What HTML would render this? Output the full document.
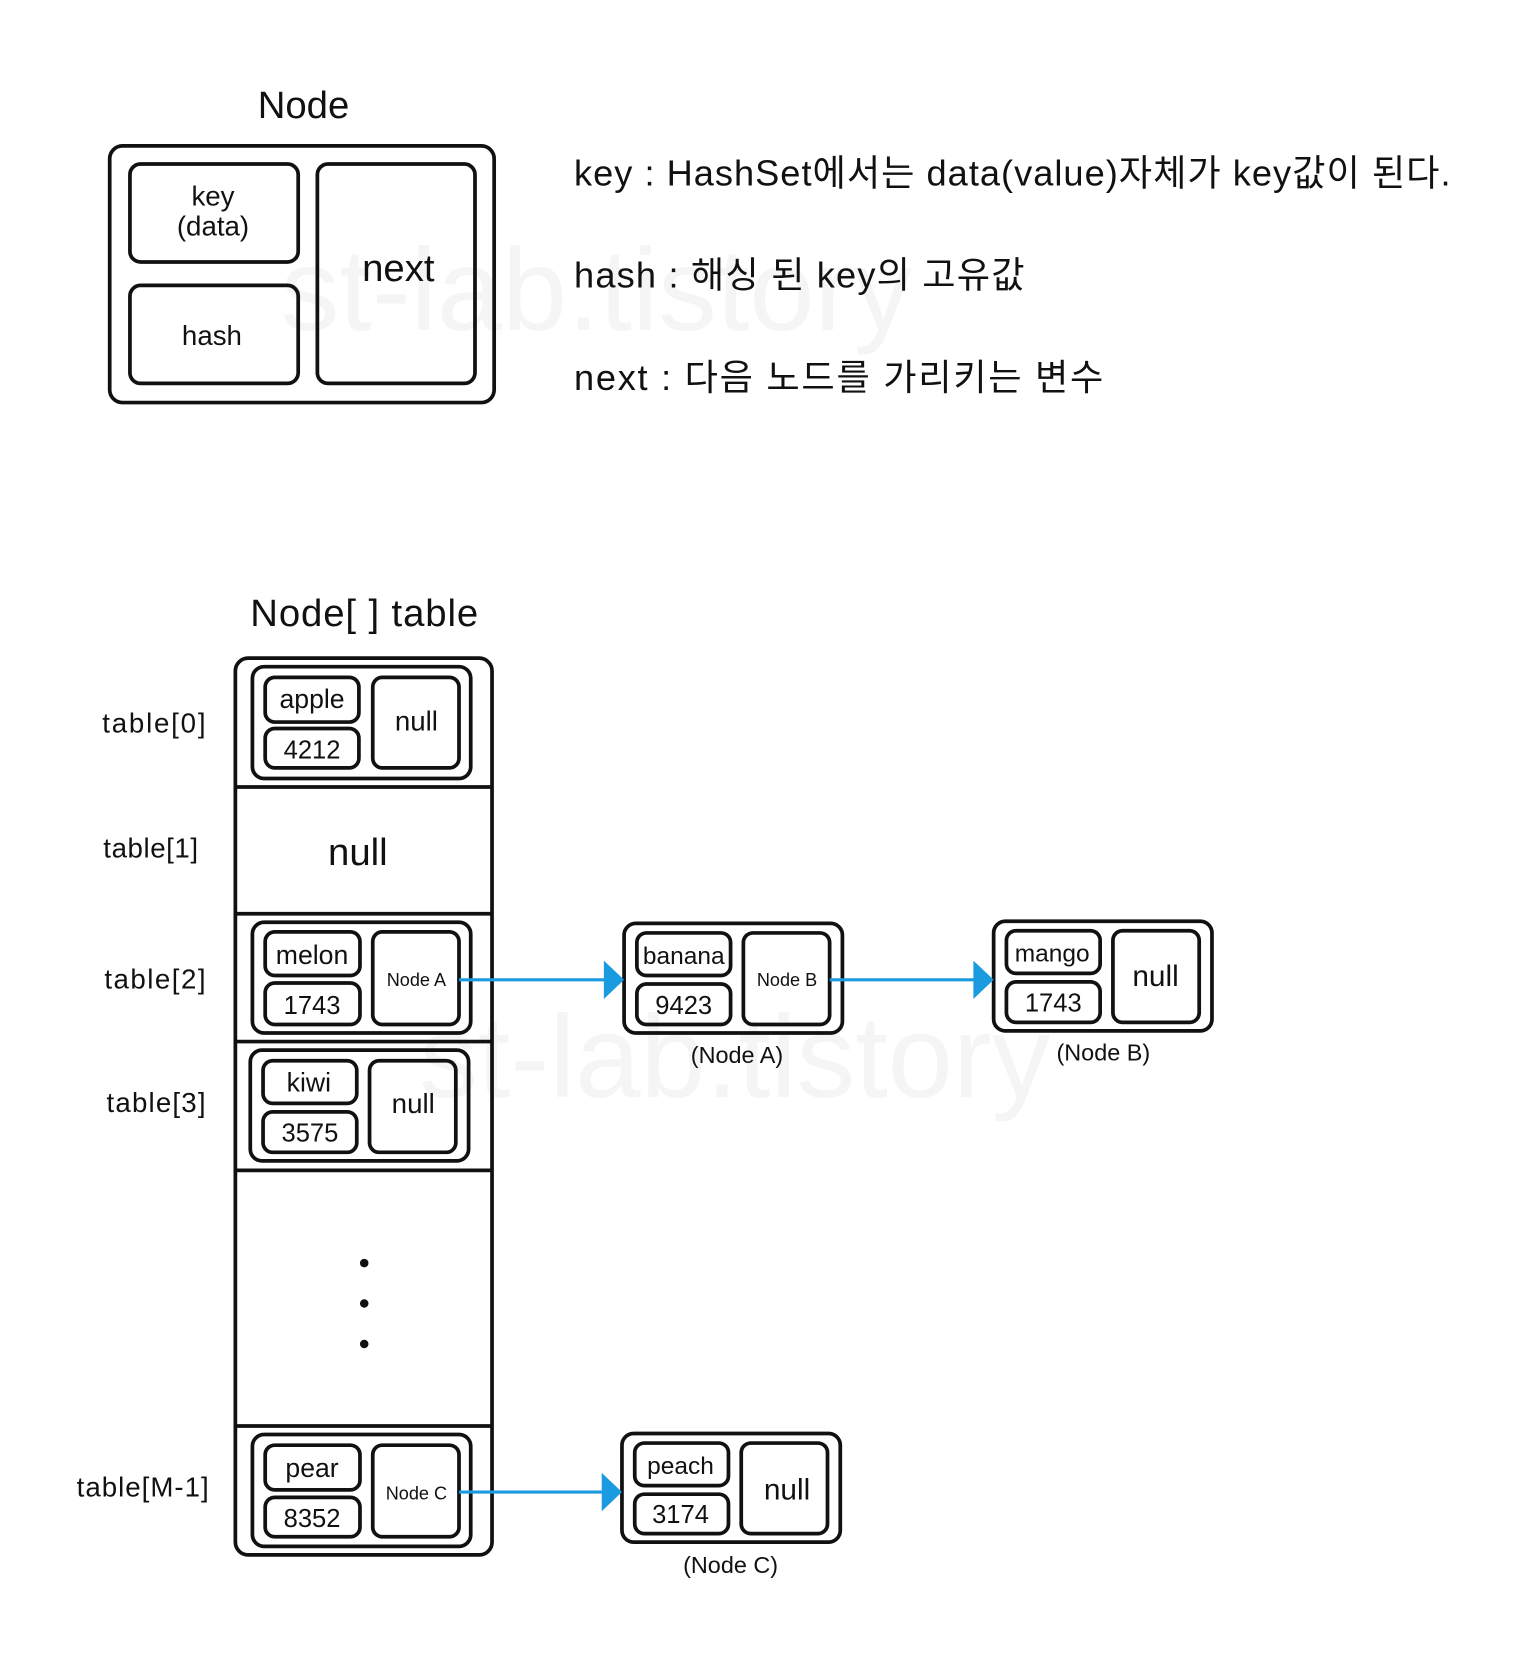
<!DOCTYPE html>
<html><head><meta charset="utf-8"><style>
html,body{margin:0;padding:0;background:#fff;}
svg{display:block;}
text{font-family:"Liberation Sans","Noto Sans CJK KR",sans-serif;fill:#111;}
</style></head><body>
<svg width="1514" height="1665" viewBox="0 0 1421.6 1563.4" preserveAspectRatio="none" xmlns="http://www.w3.org/2000/svg">
<text x="560" y="310" font-size="110" style="fill:#f5f5f5" text-anchor="middle">st-lab.tistory</text>
<text x="690" y="1030" font-size="110" style="fill:#f5f5f5" text-anchor="middle">st-lab.tistory</text>
<g fill="none" stroke="#111" stroke-width="3.5">
<rect x="103" y="137" width="361" height="241" rx="12"/>
<rect x="122" y="154" width="158" height="92" rx="10"/>
<rect x="122" y="268" width="158" height="92" rx="10"/>
<rect x="298" y="154" width="148" height="206" rx="10"/>
<rect x="221" y="618" width="241" height="842" rx="12"/>
<line x1="221" y1="739" x2="462" y2="739"/>
<line x1="221" y1="858" x2="462" y2="858"/>
<line x1="221" y1="978" x2="462" y2="978"/>
<line x1="221" y1="1099" x2="462" y2="1099"/>
<line x1="221" y1="1339" x2="462" y2="1339"/>
<rect x="237" y="626" width="205" height="105" rx="11"/>
<rect x="249" y="636" width="88" height="42" rx="9"/>
<rect x="249" y="684" width="88" height="37" rx="9"/>
<rect x="350" y="636" width="81" height="85" rx="9"/>
<rect x="237" y="866" width="205" height="104" rx="11"/>
<rect x="249" y="875" width="89" height="41" rx="9"/>
<rect x="249" y="923" width="89" height="39" rx="9"/>
<rect x="350" y="875" width="81" height="87" rx="9"/>
<rect x="235" y="986" width="205" height="104" rx="11"/>
<rect x="247" y="996" width="88" height="40" rx="9"/>
<rect x="247" y="1044" width="88" height="38" rx="9"/>
<rect x="347" y="996" width="81" height="86" rx="9"/>
<rect x="237" y="1347" width="205" height="105" rx="11"/>
<rect x="249" y="1357" width="89" height="42" rx="9"/>
<rect x="249" y="1406" width="89" height="37" rx="9"/>
<rect x="350" y="1357" width="81" height="86" rx="9"/>
<rect x="586" y="867" width="205" height="103" rx="11"/>
<rect x="598" y="876" width="88" height="40" rx="9"/>
<rect x="598" y="924" width="88" height="38" rx="9"/>
<rect x="698" y="876" width="81" height="86" rx="9"/>
<rect x="933" y="865" width="205" height="103" rx="11"/>
<rect x="945" y="874" width="88" height="40" rx="9"/>
<rect x="945" y="922" width="88" height="38" rx="9"/>
<rect x="1045" y="874" width="81" height="86" rx="9"/>
<rect x="584" y="1346" width="205" height="102" rx="11"/>
<rect x="596" y="1355" width="88" height="40" rx="9"/>
<rect x="596" y="1403" width="88" height="37" rx="9"/>
<rect x="696" y="1355" width="81" height="85" rx="9"/>
</g>
<g stroke="#1a9be0" stroke-width="3">
<line x1="431" y1="920" x2="570" y2="920"/>
<line x1="779" y1="920" x2="917" y2="920"/>
<line x1="431" y1="1401" x2="568" y2="1401"/>
</g>
<g fill="#1a9be0">
<polygon points="567,902 586,920 567,938"/>
<polygon points="914,902 933,920 914,938"/>
<polygon points="565,1383 584,1401 565,1419"/>
</g>
<g fill="#111">
<circle cx="342" cy="1186" r="4"/><circle cx="342" cy="1224" r="4"/><circle cx="342" cy="1262" r="4"/>
</g>
<g text-anchor="middle">
<text x="285" y="111" font-size="36">Node</text>
<text x="200" y="193" font-size="26">key</text>
<text x="200" y="221" font-size="26">(data)</text>
<text x="199" y="324" font-size="26">hash</text>
<text x="374" y="264" font-size="36">next</text>
<text x="342" y="588" font-size="36" textLength="214">Node[ ] table</text>
<text x="293" y="665" font-size="25">apple</text>
<text x="293" y="712" font-size="24">4212</text>
<text x="391" y="686" font-size="26">null</text>
<text x="336" y="812" font-size="36">null</text>
<text x="293" y="905" font-size="25">melon</text>
<text x="293" y="952" font-size="24">1743</text>
<text x="391" y="926" font-size="17">Node A</text>
<text x="290" y="1025" font-size="25">kiwi</text>
<text x="291" y="1072" font-size="24">3575</text>
<text x="388" y="1045" font-size="26">null</text>
<text x="293" y="1387" font-size="25">pear</text>
<text x="293" y="1434" font-size="24">8352</text>
<text x="391" y="1408" font-size="17">Node C</text>
<text x="642" y="905" font-size="23">banana</text>
<text x="642" y="952" font-size="24">9423</text>
<text x="739" y="926" font-size="17">Node B</text>
<text x="692" y="998" font-size="22">(Node A)</text>
<text x="988" y="903" font-size="23">mango</text>
<text x="989" y="950" font-size="24">1743</text>
<text x="1085" y="926" font-size="28">null</text>
<text x="1036" y="996" font-size="22">(Node B)</text>
<text x="639" y="1384" font-size="23">peach</text>
<text x="639" y="1430" font-size="24">3174</text>
<text x="739" y="1408" font-size="28">null</text>
<text x="686" y="1477" font-size="22">(Node C)</text>
</g>
<g font-size="26">
<text x="96" y="688" textLength="97">table[0]</text>
<text x="97" y="805" textLength="89">table[1]</text>
<text x="98" y="928" textLength="95">table[2]</text>
<text x="100" y="1044" textLength="93">table[3]</text>
<text x="72" y="1405" textLength="124">table[M-1]</text>
</g>
<g font-size="34" style="fill:#222">
<text x="539" y="174" textLength="823">key : HashSet에서는 data(value)자체가 key값이 된다.</text>
<text x="539" y="270" textLength="423">hash : 해싱 된 key의 고유값</text>
<text x="539" y="366" textLength="497">next : 다음 노드를 가리키는 변수</text>
</g>
</svg>
</body></html>
